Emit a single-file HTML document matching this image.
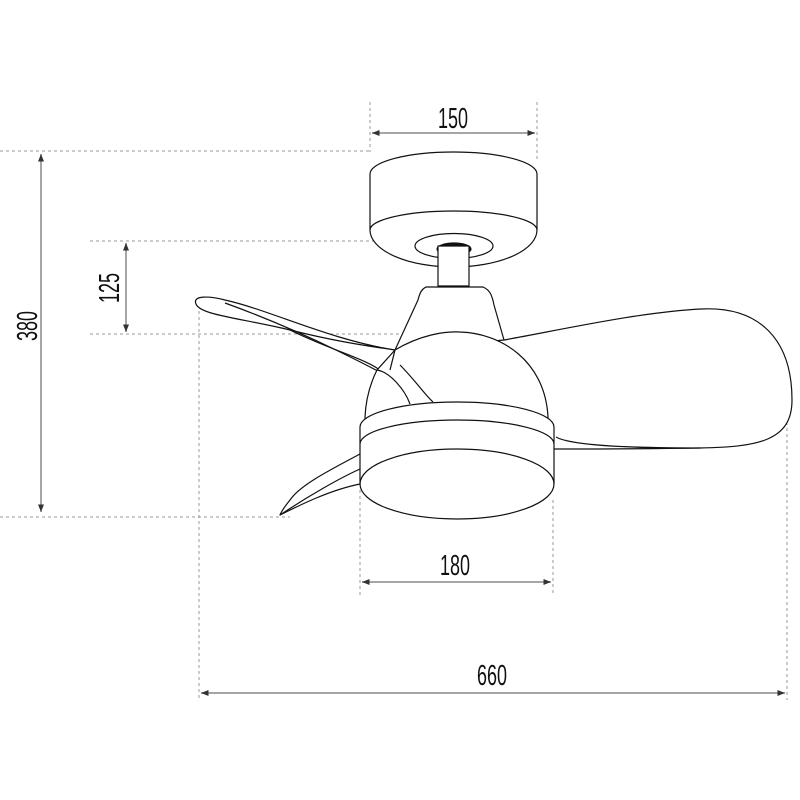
<!DOCTYPE html>
<html><head><meta charset="utf-8"><style>
html,body{margin:0;padding:0;background:#fff;width:800px;height:800px;overflow:hidden}
svg{display:block}
.t{font-family:"Liberation Sans",sans-serif;font-size:29px;fill:#111}
</style></head><body>
<svg width="800" height="800" viewBox="0 0 800 800" xmlns="http://www.w3.org/2000/svg">
<defs>
<marker id="a" viewBox="0 0 10 10" refX="10" refY="5" markerWidth="5" markerHeight="5" orient="auto-start-reverse"><path d="M0,1 L10,5 L0,9z" fill="#333"/></marker>
</defs>
<g stroke="#999" stroke-width="1" stroke-dasharray="3,3" fill="none">
<line x1="0" y1="151" x2="370" y2="151"/>
<line x1="90" y1="241" x2="420" y2="241"/>
<line x1="90" y1="334" x2="400" y2="334"/>
<line x1="0" y1="517" x2="290" y2="517"/>
<line x1="370" y1="102" x2="370" y2="152"/>
<line x1="537" y1="102" x2="537" y2="162"/>
<line x1="199" y1="305" x2="199" y2="700"/>
<line x1="360" y1="490" x2="360" y2="595"/>
<line x1="553" y1="500" x2="553" y2="595"/>
<line x1="787" y1="410" x2="787" y2="700"/>
</g>
<g stroke="#888" stroke-width="1.5" fill="none" marker-start="url(#a)" marker-end="url(#a)">
<line x1="41" y1="154" x2="41" y2="512"/>
<line x1="126" y1="243" x2="126" y2="332"/>
<line x1="372" y1="133" x2="535" y2="133"/>
<line x1="362" y1="582" x2="551" y2="582"/>
<line x1="201" y1="693" x2="785" y2="693"/>
</g>
<g class="t" text-anchor="middle">
<text transform="translate(453,128) scale(0.62,1)">150</text>
<text transform="translate(455,575) scale(0.62,1)">180</text>
<text transform="translate(492,685) scale(0.62,1)">660</text>
<text transform="translate(37,326) rotate(-90) scale(0.62,1)">380</text>
<text transform="translate(119,288) rotate(-90) scale(0.62,1)">125</text>
</g>
<g stroke="#111" stroke-width="1.2" fill="none" stroke-linejoin="round">
<path d="M370,174 A83.5,22 0 0 1 537,174 L537,230 A83.5,37 0 0 1 370,230 Z" fill="#fff"/>
<path d="M370,230 A83.5,19 0 0 1 537,230"/>
<ellipse cx="454" cy="246" rx="39" ry="12.5"/>
<ellipse cx="454" cy="249" rx="17" ry="6" fill="#111"/>
<rect x="438" y="246" width="31" height="40" fill="#fff"/>
<path d="M504,340 C560,330 640,312 701,309 C760,306 792,340 792,400 C792,440 760,447 700,448 C640,449 600,449 554,449" fill="#fff"/>
<path d="M556,437 C570,445 620,448 700,448"/>
<path d="M395,350 C360,345 330,340 290,330 C240,318 200,315 196,304 C192,295 210,296 225,300 C270,310 330,340 395,350" fill="#fff"/>
<path d="M290,330 C330,350 370,360 382,372 C392,382 395,392 398,404"/>
<path d="M225,303 C300,330 380,370 433,402"/>
<path d="M426,287 L483,287 C490,290 492,295 494,305 L504,340 L395,350 L418,300 C420,292 422,289 426,287 Z" fill="#fff"/>
<path d="M395,350 C420,335 445,331 460,332 C500,333 545,360 548,417 L548,430 L365,430 L365,417 C366,395 372,380 377,370 Z" fill="#fff"/>
<path d="M395,350 L390,370" />
<path d="M377,370 C390,372 405,390 410,404"/>
<path d="M400,365 C415,380 425,395 433,402"/>
<path d="M360,454 C330,470 300,485 290,500 C282,510 280,515 280,515 C300,505 330,490 360,484"/>
<path d="M280,515 C310,495 340,478 360,469"/>
<path d="M360,427 A97,25 0 0 1 554,427 L554,484 A97,35 0 0 1 360,484 Z" fill="#fff"/>
<path d="M360,444 A97,24 0 0 1 554,444"/>
<path d="M360,484 A97,35 0 0 1 554,484"/>
</g>
</svg>
</body></html>
